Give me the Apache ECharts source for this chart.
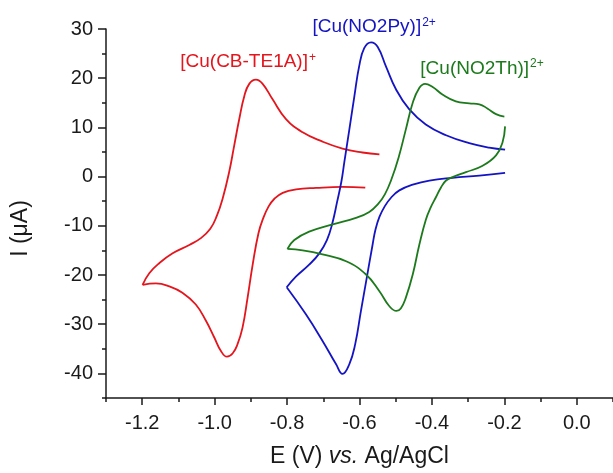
<!DOCTYPE html>
<html>
<head>
<meta charset="utf-8">
<script src="https://cdn.jsdelivr.net/npm/echarts@6/dist/echarts.min.js"></script>
<style>
html, body { margin: 0; padding: 0; background: #fff; }
#main { width: 613px; height: 473px; }
</style>
</head>
<body>
<div id="main"></div>
<script>
// 数据 (E / V, I / uA) 从图上读出
var redCathodic = [[-0.584,-2.26],[-0.647,-2.1],[-0.720,-2.3],[-0.775,-2.6],[-0.812,-3.3],[-0.835,-4.5],[-0.852,-6.2],[-0.866,-8.5],[-0.879,-11.5],[-0.895,-17.9],[-0.909,-24.6],[-0.923,-30.7],[-0.937,-34.1],[-0.950,-35.9],[-0.966,-36.6],[-0.983,-35.4],[-1.001,-32.7],[-1.024,-29.3],[-1.052,-26.0],[-1.089,-23.6],[-1.125,-22.3],[-1.162,-21.7],[-1.199,-22.0]];
var redAnodic = [[-1.199,-22.0],[-1.180,-19.6],[-1.153,-17.6],[-1.116,-15.6],[-1.070,-13.9],[-1.038,-12.5],[-1.012,-10.6],[-0.994,-8.0],[-0.978,-4.5],[-0.960,0.9],[-0.946,6.3],[-0.932,11.7],[-0.918,16.4],[-0.904,18.9],[-0.886,19.7],[-0.868,18.9],[-0.840,15.7],[-0.803,11.7],[-0.757,9.0],[-0.702,7.1],[-0.647,5.7],[-0.592,4.9],[-0.545,4.5]];

var blueCathodic = [[-0.198,0.77],[-0.269,0.2],[-0.343,-0.24],[-0.407,-0.8],[-0.453,-1.65],[-0.490,-2.8],[-0.513,-4.3],[-0.530,-6.0],[-0.545,-8.2],[-0.556,-10.8],[-0.564,-13.9],[-0.580,-20.6],[-0.596,-27.3],[-0.612,-34.1],[-0.628,-38.1],[-0.647,-40.1],[-0.665,-38.1],[-0.702,-33.4],[-0.748,-28.0],[-0.801,-22.5]];
var blueAnodic = [[-0.801,-22.5],[-0.775,-20.3],[-0.739,-17.9],[-0.711,-15.6],[-0.690,-12.9],[-0.675,-9.5],[-0.662,-5.2],[-0.650,-1.0],[-0.642,2.9],[-0.628,9.6],[-0.614,16.4],[-0.601,22.4],[-0.587,26.1],[-0.568,27.3],[-0.550,26.4],[-0.527,22.4],[-0.499,17.7],[-0.463,13.7],[-0.417,10.6],[-0.361,8.4],[-0.297,6.8],[-0.242,5.9],[-0.198,5.5]];

var greenCathodic = [[-0.198,10.2],[-0.205,7.0],[-0.223,4.3],[-0.260,2.2],[-0.306,0.9],[-0.343,-0.1],[-0.361,-0.8],[-0.375,-2.2],[-0.389,-4.2],[-0.403,-6.2],[-0.417,-8.8],[-0.435,-13.9],[-0.453,-19.9],[-0.472,-24.6],[-0.486,-26.8],[-0.498,-27.3],[-0.518,-26.3],[-0.545,-23.3],[-0.582,-19.9],[-0.637,-17.2],[-0.702,-15.8],[-0.757,-15.0],[-0.799,-14.7]];
var greenAnodic = [[-0.799,-14.7],[-0.780,-12.9],[-0.739,-11.2],[-0.674,-9.7],[-0.610,-8.4],[-0.573,-7.2],[-0.548,-5.5],[-0.530,-3.6],[-0.512,-0.6],[-0.492,3.9],[-0.472,9.6],[-0.453,15.0],[-0.435,18.0],[-0.419,18.85],[-0.398,18.2],[-0.371,16.7],[-0.334,15.3],[-0.297,14.9],[-0.269,14.7],[-0.246,13.8],[-0.223,12.7],[-0.200,12.2]];

var xTicks = [-1.2, -1.0, -0.8, -0.6, -0.4, -0.2, 0.0];
var yTicks = [-40, -30, -20, -10, 0, 10, 20, 30];

// 标注文字的位置 (左端, 数据坐标)
var labelNames = ['[Cu(CB-TE1A)]', '[Cu(NO2Py)]', '[Cu(NO2Th)]'];
var labelSups = ['+', '2+', '2+'];
var labelAnchors = [[-1.095, 23.3], [-0.730, 30.4], [-0.432, 22.0]];

var RED = '#e4151c', BLUE = '#1414c4', GREEN = '#1c7a1c';
var colors = [RED, BLUE, GREEN];
var FONT = 'Liberation Sans, Arial, sans-serif';
var AXC = '#1a1a1a';

var chart = echarts.init(document.getElementById('main'));

function branch(data, color) {
	return {
		type: 'line',
		data: data,
		xAxisIndex: 0,
		yAxisIndex: 0,
		smooth: 0.45,
		showSymbol: false,
		symbol: 'none',
		lineStyle: { color: color, width: 1.8 },
		clip: false
	};
}

chart.setOption({
	animation: false,
	grid: { left: 106, right: 0, top: 29, bottom: 72 },
	xAxis: [{
		type: 'value', min: -1.3, max: 0.1, interval: 0.1, position: 'bottom',
		axisLine: { show: true, onZero: false, lineStyle: { color: AXC, width: 1.5 } },
		axisTick: { show: true, length: 4, lineStyle: { color: AXC, width: 1.5 } },
		axisLabel: { show: false },
		splitLine: { show: false }
	}, {
		type: 'value', min: -1.3, max: 0.1, position: 'bottom',
		name: '{a|E (V) }{b|vs.}{a| Ag/AgCl}',
		nameLocation: 'middle', nameGap: 47,
		nameTextStyle: {
			rich: {
				a: { fontSize: 23, fontFamily: FONT, color: AXC },
				b: { fontSize: 23, fontFamily: FONT, color: AXC, fontStyle: 'italic' }
			}
		},
		axisLine: { show: false, onZero: false },
		axisTick: { show: true, length: 7, customValues: xTicks, lineStyle: { color: AXC, width: 1.5 } },
		axisLabel: {
			customValues: xTicks, margin: 15, fontSize: 20, fontFamily: FONT, color: AXC,
			formatter: function(v) { return v.toFixed(1); }
		},
		splitLine: { show: false }
	}],
	yAxis: [{
		type: 'value', min: -45, max: 30, interval: 5, position: 'left',
		axisLine: { show: true, onZero: false, lineStyle: { color: AXC, width: 1.5 } },
		axisTick: { show: true, length: 4, lineStyle: { color: AXC, width: 1.5 } },
		axisLabel: { show: false },
		splitLine: { show: false }
	}, {
		type: 'value', min: -45, max: 30, position: 'left',
		name: 'I (μA)', nameLocation: 'middle', nameGap: 74,
		nameTextStyle: { fontSize: 23, fontFamily: FONT, color: AXC, padding: [0, 30, 0, 0] },
		axisLine: { show: false, onZero: false },
		axisTick: { show: true, length: 8, customValues: yTicks, lineStyle: { color: AXC, width: 1.5 } },
		axisLabel: {
			customValues: yTicks, margin: 13, fontSize: 20, fontFamily: FONT, color: AXC
		},
		splitLine: { show: false }
	}],
	series: [
		branch(redCathodic, RED), branch(redAnodic, RED),
		branch(blueCathodic, BLUE), branch(blueAnodic, BLUE),
		branch(greenCathodic, GREEN), branch(greenAnodic, GREEN)
	]
});

// 标注
var texts = [];
for (var i = 0; i < labelNames.length; i++) {
	var p = chart.convertToPixel({ xAxisIndex: 0, yAxisIndex: 0 }, labelAnchors[i]);
	texts.push({
		type: 'text',
		x: p[0], y: p[1],
		style: {
			text: '{m|' + labelNames[i] + '}{s|' + labelSups[i] + '}',
			align: 'left',
			verticalAlign: 'middle',
			rich: {
				m: { fontSize: 19, fontFamily: FONT, fill: colors[i] },
				s: { fontSize: 12, fontFamily: FONT, fill: colors[i], padding: [0, 0, 9, 1] }
			}
		}
	});
}
chart.setOption({ graphic: texts });
</script>
</body>
</html>
